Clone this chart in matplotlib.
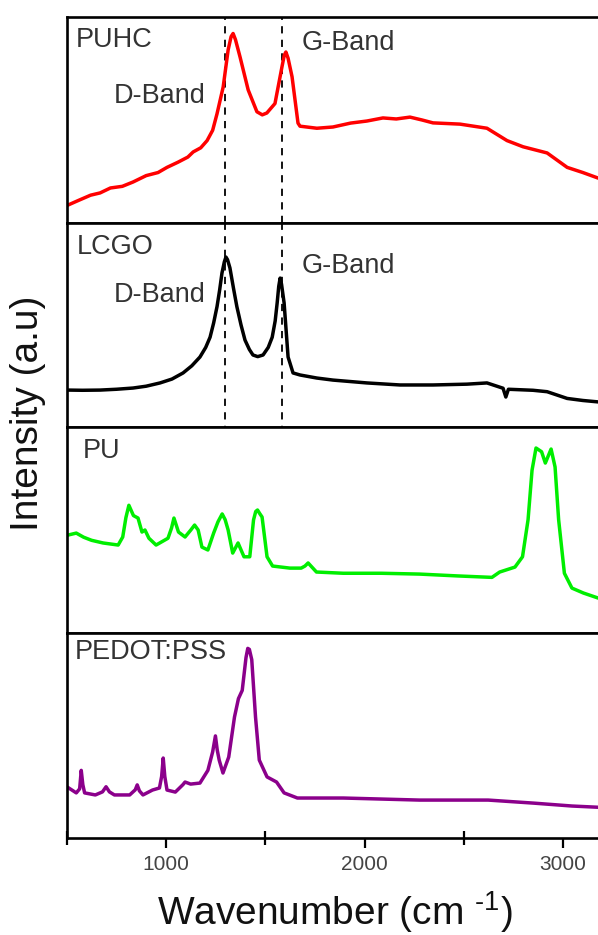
import matplotlib
matplotlib.use("Agg")
import matplotlib.pyplot as plt
from matplotlib.ticker import FixedLocator

plt.rcParams['font.family'] = ['Liberation Sans', 'DejaVu Sans']
plt.rcParams['mathtext.fontset'] = 'custom'
plt.rcParams['mathtext.rm'] = 'Liberation Sans'

# ---------------- data ----------------
puhc_x = [506, 560, 620, 668, 720, 780, 834, 900, 960, 1005, 1060, 1110, 1137, 1175, 1207, 1235, 1257, 1288,
          1313, 1328, 1338, 1350, 1373, 1414, 1458, 1485, 1508, 1549, 1584, 1596, 1604, 1615, 1635, 1665, 1675,
          1760, 1841, 1930, 2012, 2093, 2160, 2229, 2290, 2345, 2481, 2617, 2718, 2799, 2920, 3021, 3100, 3177]
puhc_y = [8.7, 11.0, 13.5, 14.6, 17.0, 17.8, 19.9, 23.0, 24.5, 27.0, 29.5, 32.0, 34.5, 36.5, 40.0, 45.0, 53.0, 66.0,
          84.0, 90.5, 92.0, 89.0, 80.6, 64.6, 54.0, 52.5, 53.4, 58.0, 75.7, 81.5, 83.0, 80.0, 71.0, 48.5, 47.0,
          46.0, 46.6, 48.5, 49.5, 51.0, 50.5, 51.4, 50.0, 48.6, 48.0, 46.0, 40.0, 37.0, 34.0, 27.0, 24.5, 21.8]

lcgo_x = [506, 580, 668, 750, 834, 900, 970, 1030, 1086, 1130, 1171, 1200, 1222, 1240, 1257, 1270, 1282, 1294,
          1302, 1310, 1322, 1340, 1357, 1378, 1398, 1420, 1438, 1462, 1489, 1515, 1535, 1550, 1560, 1568, 1575,
          1582, 1595, 1615, 1640, 1675, 1760, 1841, 2012, 2179, 2345, 2516, 2617, 2698, 2712, 2725, 2849, 2920,
          3021, 3100, 3177]
lcgo_y = [18.1, 18.0, 18.1, 18.5, 19.1, 20.0, 21.6, 23.5, 26.5, 30.0, 34.3, 39.0, 44.0, 51.0, 59.0, 67.0, 75.5, 81.0,
          83.3, 82.0, 78.0, 68.0, 59.0, 50.0, 42.6, 38.0, 35.3, 34.5, 35.3, 39.0, 44.0, 52.0, 60.8, 69.0, 73.0,
          70.0, 60.8, 34.3, 26.5, 25.5, 24.0, 23.0, 21.6, 20.6, 20.6, 21.0, 21.6, 19.0, 14.7, 18.5, 18.0, 17.3,
          14.0, 13.0, 12.3]

pu_x = [509, 548, 585, 625, 683, 759, 782, 798, 813, 836, 859, 879, 894, 914, 950, 1010, 1028, 1040, 1063,
        1096, 1125, 1144, 1162, 1181, 1211, 1240, 1262, 1283, 1298, 1313, 1336, 1363, 1393, 1422, 1441,
        1452, 1461, 1472, 1484, 1509, 1537, 1624, 1681, 1700, 1716, 1758, 1893, 2084, 2277, 2470, 2642,
        2681, 2758, 2796, 2824, 2844, 2864, 2892, 2911, 2940, 2960, 2978, 3007, 3045, 3103, 3176]
pu_y = [47.6, 48.5, 46.5, 45.0, 43.7, 42.7, 46.6, 56.0, 62.0, 57.0, 55.8, 49.0, 50.0, 46.0, 42.7, 46.0, 51.0, 55.8, 49.0,
        46.6, 50.0, 52.4, 50.0, 41.7, 40.3, 48.5, 54.0, 57.8, 55.0, 50.0, 38.8, 43.7, 37.0, 37.0, 54.9,
        59.0, 59.7, 58.0, 56.3, 37.0, 32.5, 31.5, 31.5, 32.5, 34.0, 29.6, 29.0, 29.0, 28.6, 27.7, 27.0,
        29.6, 32.0, 37.0, 55.0, 79.0, 89.8, 88.0, 82.5, 89.3, 80.6, 55.0, 29.0, 21.8, 19.4, 17.0]

pedot_x = [510, 548, 565, 573, 581, 590, 644, 680, 698, 715, 740, 817, 845, 855, 866, 884, 932, 967, 978,
           986, 994, 1005, 1047, 1085, 1096, 1124, 1171, 1211, 1235, 1249, 1258, 1268, 1287, 1316, 1345, 1365,
           1384, 1403, 1412, 1420, 1432, 1451, 1470, 1509, 1557, 1595, 1662, 1893, 2277, 2623, 2854, 3045, 3176]
pedot_y = [24.4, 22.0, 24.0, 33.0, 26.0, 22.0, 21.0, 22.5, 25.0, 22.5, 21.0, 21.0, 23.5, 25.9, 23.0, 21.0, 23.4, 24.4, 30.0,
           39.0, 30.0, 23.4, 22.4, 26.0, 27.3, 26.3, 26.8, 33.0, 42.0, 49.8, 43.0, 38.0, 31.7, 39.5, 59.0, 68.0,
           72.0, 88.0, 92.5, 92.0, 87.0, 59.0, 38.0, 29.8, 27.3, 22.0, 19.5, 19.5, 18.5, 18.5, 17.0, 15.6, 15.0]

names = ['PUHC', 'LCGO', 'PU', 'PEDOT:PSS']
colors = ['#ff0000', '#000000', '#00ee00', '#8b008b']
series_x = [puhc_x, lcgo_x, pu_x, pedot_x]
series_y = [puhc_y, lcgo_y, pu_y, pedot_y]
band_lines = [1296, 1583]
xticks_major = [1000, 2000, 3000]
xticks_minor = [500, 1500, 2500]

# ---------------- layout ----------------
W, H = 598, 935
fig = plt.figure(figsize=(W / 100, H / 100), dpi=100)

def fx(x):
    return x / W

def fy(y):
    return 1 - y / H

left_px = 66.75
width_px = 2700 * 0.1985
edges = [17, 223, 427, 633, 838]
text_color = '#333333'

axes = []
for i in range(4):
    top, bot = edges[i], edges[i + 1]
    ax = fig.add_axes([fx(left_px), fy(bot), width_px / W, (bot - top) / H])
    ax.plot(series_x[i], series_y[i], color=colors[i], lw=2.5, solid_joinstyle='round')
    ax.set_xlim(500, 3200)
    ax.set_ylim(0, 100)
    ax.set_yticks([])
    for s in ax.spines.values():
        s.set_linewidth(1.9)
        s.set_color('black')
    if i < 3:
        ax.set_xticks([])
        ax.tick_params(axis='x', which='both', bottom=False, labelbottom=False)
    axes.append(ax)

# bottom axis ticks
axb = axes[3]
axb.xaxis.set_major_locator(FixedLocator(xticks_major))
axb.xaxis.set_minor_locator(FixedLocator(xticks_minor))
axb.tick_params(axis='x', which='major', direction='out', length=7.2, width=1.6,
                labelsize=15, labelcolor='#444444', pad=5)
axb.tick_params(axis='x', which='minor', direction='inout', length=10.5, width=1.6)

# dashed band lines across the two top panels
for xv in band_lines:
    for ax, (y0, y1) in zip(axes[:2], [(0, 1), (-0.03, 1)]):
        ax.axvline(xv, ymin=y0, ymax=y1, color='black', lw=1.3, ls=(0, (4, 3.5)), clip_on=False, zorder=1)

# panel labels
fs = 19.5
fig.text(fx(76), fy(40), 'PUHC', fontsize=fs, color=text_color, ha='left', va='center')
fig.text(fx(114), fy(96), 'D-Band', fontsize=fs, color=text_color, ha='left', va='center')
fig.text(fx(302), fy(43), 'G-Band', fontsize=fs, color=text_color, ha='left', va='center')
fig.text(fx(77), fy(247), 'LCGO', fontsize=fs, color=text_color, ha='left', va='center')
fig.text(fx(114), fy(295), 'D-Band', fontsize=fs, color=text_color, ha='left', va='center')
fig.text(fx(302), fy(266), 'G-Band', fontsize=fs, color=text_color, ha='left', va='center')
fig.text(fx(83), fy(451), 'PU', fontsize=fs, color=text_color, ha='left', va='center')
fig.text(fx(75), fy(652), 'PEDOT:PSS', fontsize=fs, color=text_color, ha='left', va='center')

# axis titles
fig.text(fx(335), fy(912), 'Wavenumber (cm $^{\\text{-1}}$)', fontsize=28,
         color='#111111', ha='center', va='center')
fig.text(fx(28), fy(413), 'Intensity (a.u)', fontsize=28, color='#111111',
         ha='center', va='center', rotation=90)

fig.savefig('out.png', dpi=100)
